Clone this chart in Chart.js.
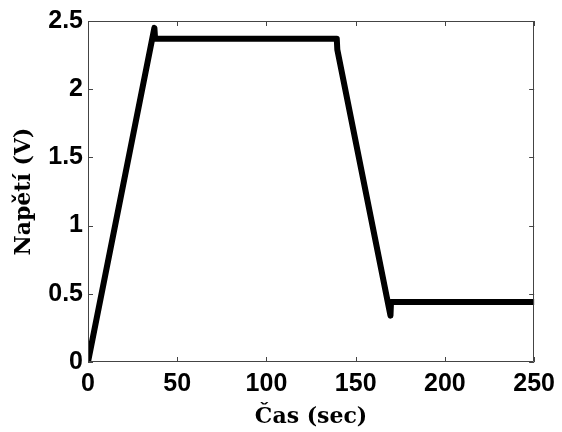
<!DOCTYPE html>
<html>
<head>
<meta charset="utf-8">
<script src="https://cdn.jsdelivr.net/npm/chart.js@4/dist/chart.umd.min.js"></script>
<style>
html,body{margin:0;padding:0;background:#fff;}
#wrap{width:562px;height:432px;position:relative;}
</style>
</head>
<body>
<div id="wrap"><canvas id="c" width="562" height="432"></canvas></div>
<script>
// Data
const timeSec = [0, 37.2, 37.6, 139.4, 139.7, 169.5, 169.8, 250];
const voltage = [0, 2.45, 2.37, 2.37, 2.29, 0.34, 0.44, 0.44];
const xTicks = [0, 50, 100, 150, 200, 250];
const yTicks = [0, 0.5, 1, 1.5, 2, 2.5];
const xTitle = 'Čas (sec)';
const yTitle = 'Napětí (V)';

const points = timeSec.map((t, i) => ({x: t, y: voltage[i]}));

const boxTicks = {
  id: 'boxTicks',
  afterDraw(chart) {
    const {ctx, chartArea: a, scales} = chart;
    const L = 5;
    ctx.save();
    ctx.strokeStyle = '#444';
    ctx.lineWidth = 1;
    ctx.beginPath();
    ctx.rect(Math.round(a.left) + 0.5, Math.round(a.top) + 0.5,
             Math.round(a.right - a.left) - 1, Math.round(a.bottom - a.top) - 1);
    ctx.stroke();
    ctx.beginPath();
    xTicks.forEach(v => {
      const px = Math.round(scales.x.getPixelForValue(v)) + 0.5;
      ctx.moveTo(px, a.bottom); ctx.lineTo(px, a.bottom - L);
      ctx.moveTo(px, a.top); ctx.lineTo(px, a.top + L);
    });
    yTicks.forEach(v => {
      const py = Math.round(scales.y.getPixelForValue(v)) + 0.5;
      ctx.moveTo(a.left, py); ctx.lineTo(a.left + L, py);
      ctx.moveTo(a.right, py); ctx.lineTo(a.right - L, py);
    });
    ctx.stroke();
    ctx.restore();
  }
};

new Chart(document.getElementById('c'), {
  type: 'line',
  data: {
    datasets: [{
      data: points,
      borderColor: '#000',
      borderWidth: 6,
      borderCapStyle: 'round',
      borderJoinStyle: 'round',
      pointRadius: 0,
      tension: 0,
      fill: false
    }]
  },
  options: {
    responsive: false,
    animation: false,
    layout: {padding: {left: 0, right: 25, top: 21, bottom: 0}},
    plugins: {legend: {display: false}, tooltip: {enabled: false}},
    scales: {
      x: {
        type: 'linear',
        min: 0, max: 250,
        afterBuildTicks: s => { s.ticks = xTicks.map(v => ({value: v})); },
        afterFit: s => { s.height = 70; },
        grid: {display: false, drawTicks: false},
        border: {display: false},
        ticks: {
          padding: 7,
          color: '#000',
          maxRotation: 0,
          font: {family: '"Liberation Sans", Arial, sans-serif', size: 25, weight: 'bold'}
        },
        title: {
          display: true,
          text: xTitle,
          color: '#000',
          padding: {top: 0, bottom: 2},
          font: {family: '"DejaVu Serif", serif', size: 22, weight: 'bold'}
        }
      },
      y: {
        type: 'linear',
        min: 0, max: 2.5,
        afterBuildTicks: s => { s.ticks = yTicks.map(v => ({value: v})); },
        afterFit: s => { s.width = 88; },
        grid: {display: false, drawTicks: false},
        border: {display: false},
        ticks: {
          padding: 5,
          color: '#000',
          font: {family: '"Liberation Sans", Arial, sans-serif', size: 25, weight: 'bold'},
          callback: v => String(v)
        },
        title: {
          display: true,
          text: yTitle,
          color: '#000',
          padding: {top: 11, bottom: 0},
          font: {family: '"DejaVu Serif", serif', size: 22, weight: 'bold'}
        }
      }
    }
  },
  plugins: [boxTicks]
});
</script>
</body>
</html>
